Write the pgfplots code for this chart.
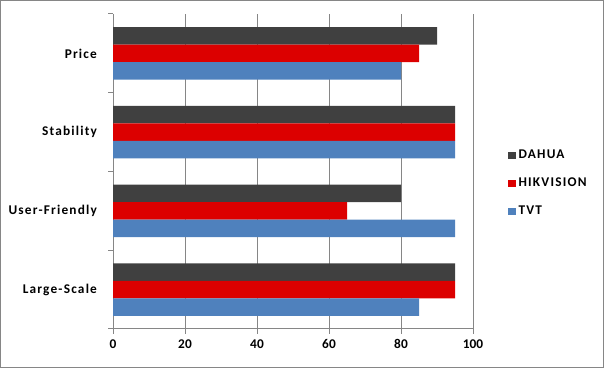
\documentclass[border=0pt]{standalone}
\usepackage{pgfplots}
\pgfplotsset{compat=1.18}
\usepackage{fontspec}
\setmainfont{Carlito}
\newfontfamily\lbl[LetterSpace=9]{Carlito}
\definecolor{cdark}{HTML}{404040}
\definecolor{cred}{HTML}{DC0000}
\definecolor{cblue}{HTML}{4F81BD}
\definecolor{cgrid}{HTML}{868686}
\begin{document}
\begin{tikzpicture}
\draw[cgrid, line width=1pt] (0.5pt,0.5pt) rectangle (452.5pt,275.5pt);
\begin{axis}[
  at={(84.75pt,29.25pt)}, anchor=south west,
  scale only axis, width=270pt, height=236.25pt,
  xbar, bar width=0.2222,
  xmin=0, xmax=100, ymin=-0.5, ymax=3.5,
  xtick={0,20,...,100},
  ytick={0,1,2,3},
  yticklabels={Large-Scale,User-Friendly,Stability,Price},
  minor ytick={-0.5,0.5,1.5,2.5,3.5},
  axis x line*=bottom, axis y line*=left,
  axis line style={cgrid, line width=0.75pt, -},
  xmajorgrids, major grid style={cgrid, line width=0.75pt},
  major x tick style={cgrid, line width=0.75pt},
  xtick align=outside, major tick length=3.5pt,
  major y tick style={draw=none},
  minor y tick style={cgrid, line width=0.75pt},
  minor tick length=3.5pt, ytick align=outside,
  tick label style={font=\bfseries},
  yticklabel style={font=\lbl\bfseries, xshift=-5pt},
  /pgf/number format/assume math mode=true,
  xticklabel style={yshift=-1pt},
  legend style={draw=none, fill=none, at={(1.097,0.462)}, anchor=west,
    inner sep=0pt, row sep=9pt, font=\lbl\bfseries,
    /tikz/every even column/.append style={column sep=0pt}},
  legend cell align=left,
  legend image code/.code={\fill[#1] (0pt,-2.6pt) rectangle (5.8pt,2.6pt);},
]
\addplot[fill=cdark, draw=none, bar shift=0.2222] coordinates {(95,0) (80,1) (95,2) (90,3)};
\addplot[fill=cred, draw=none, bar shift=0] coordinates {(95,0) (65,1) (95,2) (85,3)};
\addplot[fill=cblue, draw=none, bar shift=-0.2222] coordinates {(85,0) (95,1) (95,2) (80,3)};
\legend{DAHUA,HIKVISION,TVT}
\end{axis}
\end{tikzpicture}
\end{document}
